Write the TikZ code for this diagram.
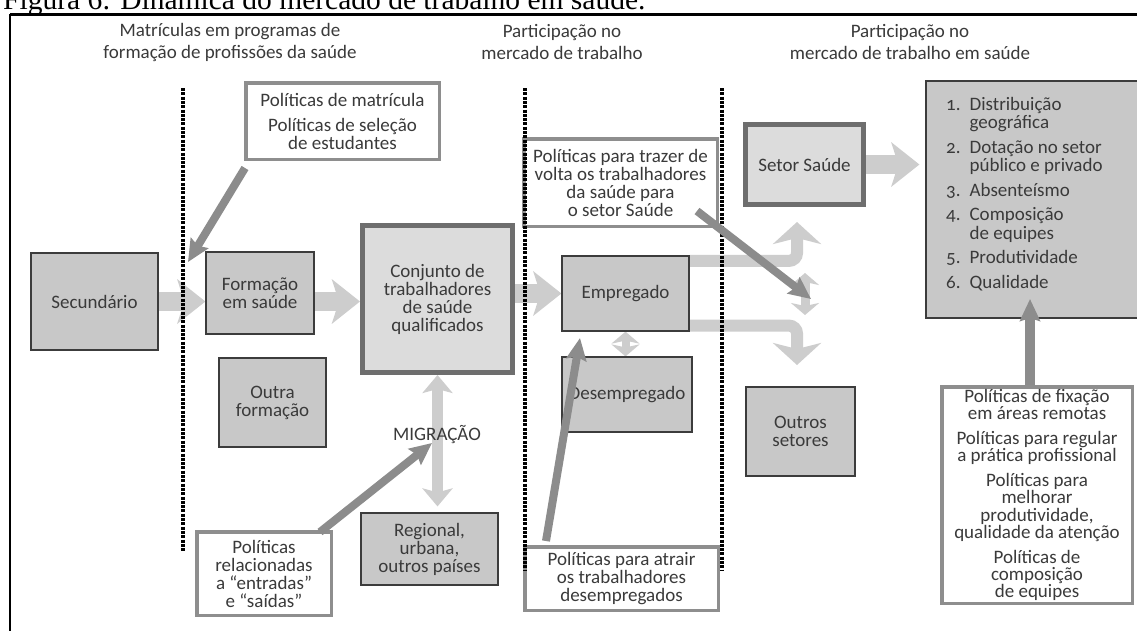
\documentclass[tikz,border=0pt]{standalone}
\usepackage{fontspec}
\setmainfont{Carlito}[Numbers=OldStyle]
\newfontfamily\capfont{Liberation Serif}
\usetikzlibrary{arrows.meta}
\definecolor{txt}{HTML}{3A3A3A}
\definecolor{boxfill}{HTML}{C8C8C8}
\definecolor{boxline}{HTML}{3C3C3C}
\definecolor{poolfill}{HTML}{DCDCDC}
\definecolor{poolline}{HTML}{6E6E6E}
\definecolor{polline}{HTML}{8E8E8E}
\definecolor{arrlight}{HTML}{CDCDCD}
\definecolor{arrdark}{HTML}{8C8C8C}
\pgfdeclarelayer{bg}
\pgfsetlayers{bg,main}
\begin{document}
\begin{tikzpicture}[x=1pt,y=-1pt,
  every node/.style={font=\fontsize{19}{18}\selectfont, text=txt, inner sep=0pt, align=center},
  graybox/.style={draw=boxline, line width=1.2pt, fill=boxfill},
  poolbox/.style={draw=poolline, line width=5pt, fill=poolfill},
  polbox/.style={draw=polline, line width=3.5pt, fill=white},
  header/.style={font=\fontsize{19}{22}\selectfont},
  dotsep/.style={line width=3.6pt, dash pattern=on 3pt off 1.3pt, black},
  bigarrow/.style={draw=arrlight, line width=19pt, -{Stealth[length=28pt, width=44pt, inset=7pt]}},
  brancharrow/.style={draw=arrlight, line width=12pt, rounded corners=8pt, -{Stealth[length=22pt, width=48pt, inset=6pt]}},
  dblarrow/.style={draw=arrlight, line width=9pt, {Stealth[length=12pt,width=28pt,inset=3pt]}-{Stealth[length=12pt,width=28pt,inset=3pt]}},
  migarrow/.style={draw=arrlight, line width=11pt, {Stealth[length=18pt,width=30pt,inset=4pt]}-{Stealth[length=18pt,width=30pt,inset=4pt]}},
  polarrow/.style={draw=arrdark, line width=8pt, -{Stealth[length=22pt, width=20pt, inset=3pt]}},
]
\useasboundingbox (0,0) rectangle (1137,630);

% caption and frame
\node[anchor=base west, font=\capfont\fontsize{29.5}{30}\selectfont, text=black] (cap) at (3,9) {Figura 6: Dinâmica do mercado de trabalho em saúde.};
\draw[black, line width=3pt] (10,14) -- (1140,14);
\draw[black, line width=1.8pt] (10,14) -- (10,632);

% headers
\node[header] (h1) at (230,42) {Matrículas em programas de\\formação de profissões da saúde};
\node[header] (h2) at (562,42) {Participação no\\mercado de trabalho};
\node[header] (h3) at (910,42) {Participação no\\mercado de trabalho em saúde};

% boxes
\node[graybox, minimum width=127pt, minimum height=97pt] (sec) at (94.5,301.5) {Secundário};
\node[graybox, minimum width=108pt, minimum height=82pt] (form) at (260,293) {Formação\\em saúde};
\node[poolbox, minimum width=150pt, minimum height=147pt] (conj) at (437.5,299) {Conjunto de\\trabalhadores\\de saúde\\qualificados};
\node[graybox, minimum width=127pt, minimum height=75pt] (emp) at (625.5,293.5) {Empregado};
\node[graybox, minimum width=130pt, minimum height=75pt] (desemp) at (627,394.5) {Desempregado};
\node[graybox, minimum width=107pt, minimum height=89pt] (outra) at (272.5,402.5) {Outra\\formação};
\node[graybox, minimum width=137pt, minimum height=72pt] (reg) at (429.5,549) {Regional,\\urbana,\\outros países};
\node[graybox, minimum width=109pt, minimum height=89pt] (outros) at (800.5,431.5) {Outros\\setores};
\node[poolbox, minimum width=118pt, minimum height=80pt] (setor) at (804.5,164.5) {Setor Saúde};
\node[graybox, minimum width=216pt, minimum height=237pt] (big) at (1034,199.5) {};
\node[anchor=north west, align=left] (list) at (946,97) {\begin{tabular}{@{}r@{\hspace{9pt}}l@{}}
1.&Distribuição\\&geográfica\\[6pt]
2.&Dotação no setor\\&público e privado\\[6pt]
3.&Absenteísmo\\[6pt]
4.&Composição\\&de equipes\\[6pt]
5.&Produtividade\\[6pt]
6.&Qualidade
\end{tabular}};
\node (migr) at (437,435) {MIGRAÇÃO};

% policy boxes
\node[polbox, minimum width=193.5pt, minimum height=76.5pt] (pmat) at (342.5,121) {Políticas de matrícula\\[7pt]Políticas de seleção\\de estudantes};
\node[polbox, minimum width=193.5pt, minimum height=87.5pt] (pvolta) at (620.5,182.5) {Políticas para trazer de\\volta os trabalhadores\\da saúde para\\o setor Saúde};
\node[polbox, minimum width=134.5pt, minimum height=83.5pt] (prel) at (264,573.5) {Políticas\\relacionadas\\a “entradas”\\e “saídas”};
\node[polbox, minimum width=193.5pt, minimum height=63.5pt] (patr) at (621.5,578.5) {Políticas para atrair\\os trabalhadores\\desempregados};
\node[polbox, minimum width=190.5pt, minimum height=216.5pt, font=\fontsize{19}{17.3}\selectfont] (pfix) at (1037,495) {Políticas de fixação\\em áreas remotas\\[7.4pt]Políticas para regular\\a prática profissional\\[7.4pt]Políticas para\\melhorar\\produtividade,\\qualidade da atenção\\[7.4pt]Políticas de\\composição\\de equipes};

% light flow arrows (behind boxes)
\coordinate (uptip) at (797,222);
\coordinate (dntip) at (797,365);
\coordinate (ma) at (805,273);
\coordinate (mb) at (805,315);
\begin{pgfonlayer}{bg}
\fill[white] (0,0) rectangle (1137,630);
\draw[bigarrow] (sec.east) -- (form.west |- sec.east);
\draw[bigarrow] (form.east |- sec.east) -- (conj.west |- sec.east);
\draw[bigarrow] (conj.east |- emp.west) -- (emp.west);
\draw[bigarrow] (setor.east) -- ([xshift=-6pt]big.west |- setor.east);
\draw[brancharrow] ([yshift=-5.5pt]emp.north east) -| (uptip);
\draw[brancharrow] ([yshift=6pt]emp.south east) -| (dntip);
\draw[dblarrow] (ma) -- (mb);
\draw[dblarrow, line width=8pt] (emp.south) -- (emp.south |- desemp.north);
\draw[migarrow] (conj.south) -- ([yshift=6pt]conj.south |- reg.north);
\end{pgfonlayer}

% dotted separators
\draw[dotsep] (183,88) -- (183,552);
\draw[dotsep] (525,88) -- (525,570);
\draw[dotsep] (722,88) -- (722,570);

% policy arrows
\coordinate (t1) at (188,262);
\coordinate (t2) at (811,299);
\coordinate (t3) at (432,443);
\coordinate (t4) at (580,338);
\coordinate (t5) at (1030,299);
\draw[polarrow] ([shift={(1,7)}]pmat.south west) -- (t1);
\draw[polarrow] ([shift={(-22,-17)}]pvolta.south east) -- (t2);
\draw[polarrow] ([shift={(-13,2)}]prel.north east) -- (t3);
\draw[polarrow] ([shift={(23,-4)}]patr.north west) -- (t4);
\draw[polarrow, line width=10pt] (pfix.north -| t5) -- (t5);
\end{tikzpicture}
\end{document}
